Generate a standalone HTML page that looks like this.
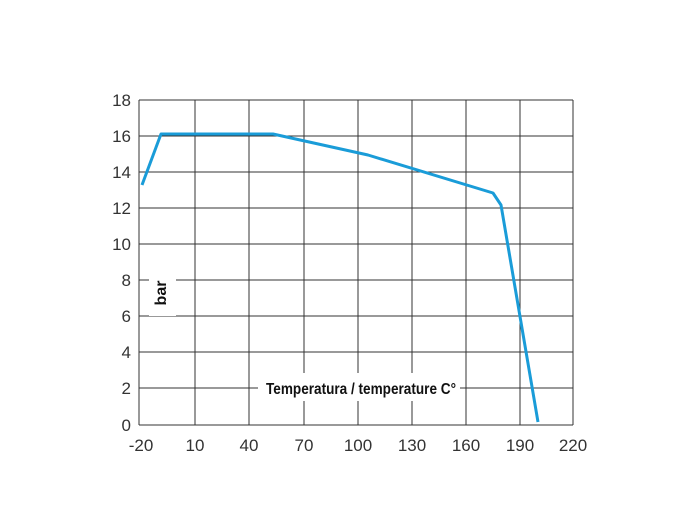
<!DOCTYPE html>
<html><head><style>body{margin:0;background:#fff}svg{display:block}</style></head><body>
<svg width="700" height="520" viewBox="0 0 700 520" xmlns="http://www.w3.org/2000/svg" font-family="Liberation Sans, sans-serif">
<g stroke="#333" stroke-width="1">
<line x1="139" y1="100" x2="573" y2="100"/>
<line x1="139" y1="136" x2="573" y2="136"/>
<line x1="139" y1="172" x2="573" y2="172"/>
<line x1="139" y1="208" x2="573" y2="208"/>
<line x1="139" y1="244" x2="573" y2="244"/>
<line x1="139" y1="280" x2="573" y2="280"/>
<line x1="139" y1="316" x2="573" y2="316"/>
<line x1="139" y1="352" x2="573" y2="352"/>
<line x1="139" y1="388" x2="573" y2="388"/>
<line x1="139" y1="425" x2="573" y2="425"/>
<line x1="139" y1="100" x2="139" y2="425"/>
<line x1="195" y1="100" x2="195" y2="425"/>
<line x1="249" y1="100" x2="249" y2="425"/>
<line x1="304" y1="100" x2="304" y2="425"/>
<line x1="358" y1="100" x2="358" y2="425"/>
<line x1="412" y1="100" x2="412" y2="425"/>
<line x1="466" y1="100" x2="466" y2="425"/>
<line x1="520" y1="100" x2="520" y2="425"/>
<line x1="573" y1="100" x2="573" y2="425"/>
</g>
<rect x="149" y="270" width="27" height="46" fill="#fff"/>
<rect x="258" y="373" width="202" height="28" fill="#fff"/>
<text transform="translate(166,293) rotate(-90)" text-anchor="middle" font-size="16" font-weight="bold" fill="#111">bar</text>
<text x="266" y="394" font-size="16" font-weight="bold" fill="#111" textLength="190" lengthAdjust="spacingAndGlyphs">Temperatura / temperature C°</text>
<polyline points="142,185 161,134 273,134 368,155 493,193 501,205 538,422" fill="none" stroke="#1a9cd8" stroke-width="3" stroke-linejoin="round"/>
<g font-size="17" fill="#333" text-anchor="end">
<text x="131" y="106">18</text><text x="131" y="142">16</text><text x="131" y="178">14</text>
<text x="131" y="214">12</text><text x="131" y="250">10</text><text x="131" y="286">8</text>
<text x="131" y="322">6</text><text x="131" y="358">4</text><text x="131" y="394">2</text>
<text x="131" y="431">0</text>
</g>
<g font-size="17" fill="#333" text-anchor="middle">
<text x="141" y="451">-20</text><text x="195" y="451">10</text><text x="249" y="451">40</text>
<text x="304" y="451">70</text><text x="358" y="451">100</text><text x="412" y="451">130</text>
<text x="466" y="451">160</text><text x="520" y="451">190</text><text x="573" y="451">220</text>
</g>
</svg>
</body></html>
